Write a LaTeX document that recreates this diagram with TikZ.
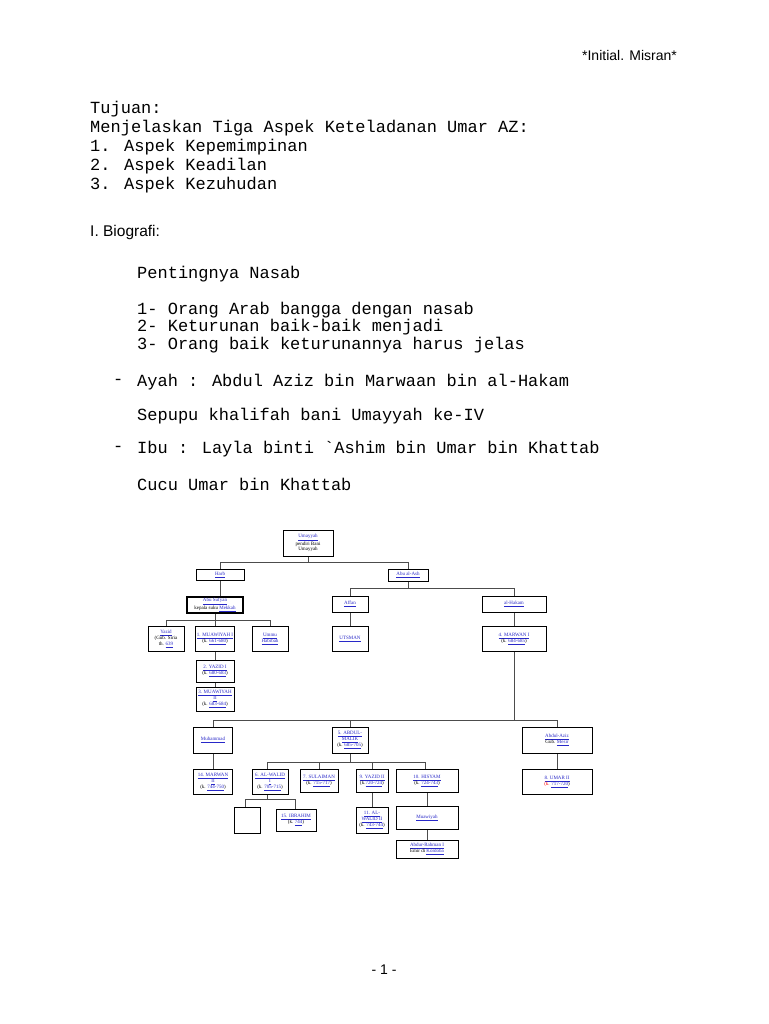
\documentclass[tikz,border=0pt]{standalone}
\usepackage{fontspec}
\setmainfont{Liberation Serif}
\newfontfamily\monofam{Liberation Mono}
\newfontfamily\sansfam{Liberation Sans}
\usetikzlibrary{positioning}
\definecolor{linkblue}{RGB}{40,40,200}
\newcommand{\lk}[1]{\textcolor{linkblue}{\underline{#1}}}
\tikzset{
  fam/.style={draw,line width=0.9pt,fill=white,align=center,inner sep=1pt,font=\fontsize{5}{5.8}\selectfont},
  mono/.style={anchor=west,inner sep=0,font=\monofam\fontsize{17}{19}\selectfont},
  sans/.style={inner sep=0,font=\sansfam\fontsize{14}{16}\selectfont},
  link/.style={draw=black!70,line width=0.7pt}
}
\begin{document}
\begin{tikzpicture}[x=1pt,y=-1pt]
\useasboundingbox (0,0) rectangle (768,1024);
\node[sans,anchor=east] (hdr) at (677,55) {*Initial. Misran*};
\node[mono] (t0) at (90,109) {Tujuan:};
\node[mono] (t1) at (90,128) {Menjelaskan Tiga Aspek Keteladanan Umar AZ:};
\node[mono] (t2) at (90,147) {1. Aspek Kepemimpinan};
\node[mono] (t3) at (90,166) {2. Aspek Keadilan};
\node[mono] (t4) at (90,185) {3. Aspek Kezuhudan};
\node[sans,anchor=west,font=\sansfam\fontsize{15.5}{17}\selectfont] (bio) at (90,232) {I. Biografi:};
\node[mono] (n0) at (137,274) {Pentingnya Nasab};
\node[mono] (n1) at (137,310) {1- Orang Arab bangga dengan nasab};
\node[mono] (n2) at (137,327) {2- Keturunan baik-baik menjadi};
\node[mono] (n3) at (137,345) {3- Orang baik keturunannya harus jelas};
\node[mono] (d1) at (113,382) {-};
\node[mono] (ayah) at (137,382) {Ayah : Abdul Aziz bin Marwaan bin al-Hakam};
\node[mono] (sep) at (137,416) {Sepupu khalifah bani Umayyah ke-IV};
\node[mono] (d2) at (113,449) {-};
\node[mono] (ibu) at (137,449) {Ibu  : Layla binti `Ashim bin Umar bin Khattab};
\node[mono] (cucu) at (137,484) {Cucu Umar bin Khattab};
\node[sans] (pg) at (384,970) {- 1 -};

% tree connectors
\draw[link] (308,556) -- (308,562) (220,562) -- (408,562) (220,562) -- (220,569) (408,562) -- (408,569);
\draw[link] (220,580) -- (220,597) (215,613) -- (215,620) (166,620) -- (270,620);
\draw[link] (166,620) -- (166,627) (215,620) -- (215,627) (270,620) -- (270,627);
\draw[link] (215,652) -- (215,660) (215,682) -- (215,687);
\draw[link] (408,581) -- (408,588) (350,588) -- (514,588) (350,588) -- (350,596) (514,588) -- (514,596);
\draw[link] (350,612) -- (350,627) (514,612) -- (514,627) (514,652) -- (514,720);
\draw[link] (213,720) -- (557,720) (213,720) -- (213,727) (350,720) -- (350,727) (557,720) -- (557,727);
\draw[link] (213,753) -- (213,769) (557,753) -- (557,769);
\draw[link] (350,753) -- (350,762) (267,762) -- (425,762);
\draw[link] (267,762) -- (267,769) (319,762) -- (319,769) (372,762) -- (372,769) (425,762) -- (425,769);
\draw[link] (267,794) -- (267,799) (245,799) -- (295,799) (245,799) -- (245,807) (295,799) -- (295,809);
\draw[link] (372,792) -- (372,807) (427,793) -- (427,807) (427,830) -- (427,840);

% tree boxes
\node[fam,minimum width=50pt,minimum height=26pt] (umayyah) at (308,543) {\lk{Umayyah}\\pendiri Bani\\Umayyah};
\node[fam,minimum width=48pt,minimum height=11pt] (harb) at (220,575) {\lk{Harb}};
\node[fam,minimum width=40pt,minimum height=12pt] (abuash) at (408,575) {\lk{Abu al-Ash}};
\node[fam,line width=1.6pt,minimum width=56pt,minimum height=16pt] (sufyan) at (215,605) {\lk{Abu Sufyan}\\kepala suku \lk{Mekkah}};
\node[fam,minimum width=36pt,minimum height=16pt] (affan) at (350,604) {\lk{Affan}};
\node[fam,minimum width=64pt,minimum height=16pt] (hakam) at (514,604) {\lk{al-Hakam}};
\node[fam,minimum width=36pt,minimum height=25pt] (yazid) at (166,639) {\lk{Yazid}\\(Gub. Siria\\th. \lk{639}};
\node[fam,minimum width=38pt,minimum height=25pt] (muawiyah) at (215,639) {\lk{1. MUAWIYAH I}\\(k. \lk{661-680})};
\node[fam,minimum width=36pt,minimum height=25pt] (ummu) at (270,639) {\lk{Ummu}\\\lk{Habibah}};
\node[fam,minimum width=36pt,minimum height=25pt] (utsman) at (350,639) {\lk{UTSMAN}};
\node[fam,minimum width=64pt,minimum height=25pt] (marwan) at (514,639) {\lk{4. MARWAN I}\\(k. \lk{684-685})};
\node[fam,minimum width=38pt,minimum height=22pt] (yazidi) at (215,671) {\lk{2. YAZID I}\\(k. \lk{680-683})};
\node[fam,minimum width=38pt,minimum height=24pt] (muawiyahii) at (215,699) {\lk{3. MUAWIYAH}\\\lk{II}\\(k. \lk{683-684})};
\node[fam,minimum width=39pt,minimum height=26pt] (muhammad) at (213,740) {\lk{Muhammad}};
\node[fam,minimum width=36pt,minimum height=26pt] (malik) at (350,740) {\lk{5. ABDUL-}\\\lk{MALIK}\\(k. \lk{685-705})};
\node[fam,minimum width=70pt,minimum height=26pt] (aziz) at (557,740) {\lk{Abdul-Aziz}\\Gub. \lk{Mesir}};
\node[fam,minimum width=39pt,minimum height=25pt] (marwanii) at (213,782) {\lk{14. MARWAN}\\\lk{II}\\(k. \lk{744-750})};
\node[fam,minimum width=36pt,minimum height=25pt] (walid) at (270,782) {\lk{6. AL-WALID}\\\lk{I}\\(k. \lk{705-715})};
\node[fam,minimum width=38pt,minimum height=23pt] (sulaiman) at (319,781) {\lk{7. SULAIMAN}\\(k. \lk{715-717})};
\node[fam,minimum width=32pt,minimum height=23pt] (yazidii) at (372,781) {\lk{9. YAZID II}\\(k.\lk{720-724})};
\node[fam,minimum width=62pt,minimum height=23pt] (hisyam) at (427,781) {\lk{10. HISYAM}\\(k. \lk{724-743})};
\node[fam,minimum width=70pt,minimum height=25pt] (umar) at (557,782) {\lk{8. UMAR II}\\\textcolor{red}{(k.} \lk{717-720})};
\node[fam,minimum width=26pt,minimum height=26pt] (empty) at (247,820) {};
\node[fam,minimum width=40pt,minimum height=22pt] (ibrahim) at (296,820) {\lk{15. IBRAHIM}\\(k. \lk{744})};
\node[fam,minimum width=32pt,minimum height=26pt] (walidii) at (372,820) {\lk{11. AL-}\\\lk{WALID II}\\(k. \lk{743-744})};
\node[fam,minimum width=62pt,minimum height=23pt] (muawiyah2) at (427,818) {\lk{Muawiyah}};
\node[fam,minimum width=62pt,minimum height=18pt] (rahman) at (427,849) {\lk{Abdur-Rahman I}\\Emir di \lk{Kordoba}};
\end{tikzpicture}
\end{document}
